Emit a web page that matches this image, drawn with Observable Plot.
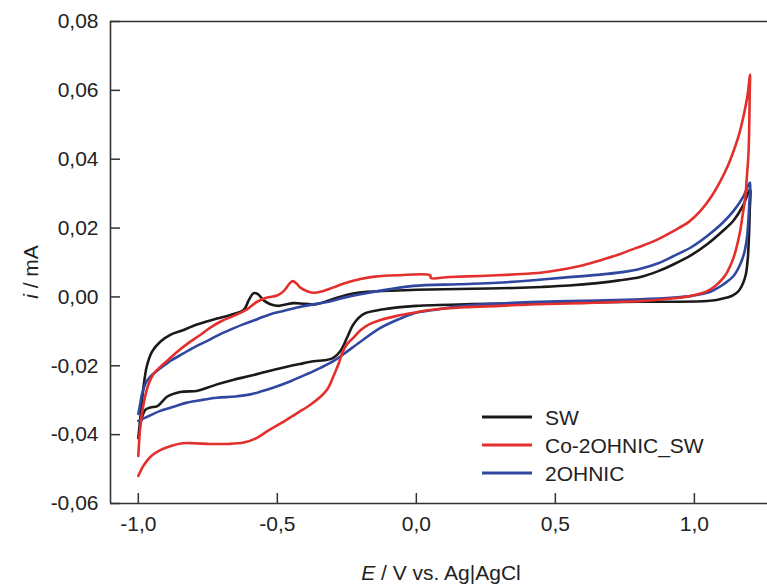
<!DOCTYPE html>
<html>
<head>
<meta charset="utf-8">
<script src="https://cdn.jsdelivr.net/npm/d3@7"></script>
<script src="https://cdn.jsdelivr.net/npm/@observablehq/plot@0.6"></script>
<style>
  html, body { margin: 0; padding: 0; background: #fff; }
  #chart { width: 767px; height: 585px; }
</style>
</head>
<body>
<div id="chart"></div>
<script>
// ---- data ----
const seriesNames = ["SW", "Co-2OHNIC_SW", "2OHNIC"];
const seriesColors = ["#1a1a1a", "#e3302d", "#2f47a0"];

const xTicks = [-1.0, -0.5, 0.0, 0.5, 1.0];
const yTicks = [-0.06, -0.04, -0.02, 0.0, 0.02, 0.04, 0.06, 0.08];

// SW (black): anodic branch then cathodic branch
const swE = [-1.000,-0.990,-0.981,-0.969,-0.950,-0.921,-0.885,-0.837,-0.789,-0.717,-0.660,-0.621,-0.603,-0.585,-0.570,-0.549,-0.525,-0.495,-0.470,-0.441,-0.400,-0.360,-0.297,-0.240,-0.177,-0.100,0.000,0.150,0.300,0.450,0.550,0.650,0.730,0.806,0.870,0.926,0.990,1.046,1.100,1.141,1.175,1.200,
  1.199,1.196,1.192,1.185,1.175,1.160,1.140,1.117,1.080,1.046,0.926,0.806,0.600,0.400,0.200,0.000,-0.118,-0.190,-0.226,-0.249,-0.273,-0.300,-0.330,-0.369,-0.420,-0.477,-0.540,-0.597,-0.660,-0.717,-0.760,-0.790,-0.849,-0.897,-0.915,-0.933,-0.957,-0.975,-0.990,-1.000];
const swI = [-0.0410,-0.0330,-0.0260,-0.0200,-0.0158,-0.0130,-0.0110,-0.0096,-0.0080,-0.0063,-0.0050,-0.0038,-0.0010,0.0011,0.0008,-0.0010,-0.0021,-0.0026,-0.0022,-0.0018,-0.0020,-0.0021,-0.0005,0.0008,0.0015,0.0018,0.0021,0.0023,0.0025,0.0029,0.0033,0.0040,0.0048,0.0058,0.0075,0.0095,0.0122,0.0153,0.0190,0.0222,0.0265,0.0313,
  0.0250,0.0170,0.0110,0.0065,0.0040,0.0018,0.0005,-0.0002,-0.0009,-0.0012,-0.0014,-0.0014,-0.0016,-0.0018,-0.0021,-0.0026,-0.0036,-0.0050,-0.0079,-0.0118,-0.0157,-0.0178,-0.0184,-0.0187,-0.0195,-0.0205,-0.0217,-0.0229,-0.0241,-0.0254,-0.0266,-0.0273,-0.0276,-0.0290,-0.0305,-0.0318,-0.0321,-0.0328,-0.0360,-0.0410];

// Co-2OHNIC_SW (red)
const coE = [-1.000,-0.993,-0.981,-0.963,-0.945,-0.921,-0.897,-0.861,-0.825,-0.780,-0.741,-0.700,-0.657,-0.609,-0.573,-0.537,-0.501,-0.477,-0.455,-0.444,-0.430,-0.417,-0.390,-0.369,-0.340,-0.300,-0.261,-0.201,-0.150,-0.069,0.050,0.052,0.120,0.230,0.320,0.410,0.480,0.540,0.600,0.660,0.720,0.770,0.820,0.870,0.926,0.980,1.022,1.060,1.094,1.120,1.141,1.160,1.178,1.192,1.200,
  1.199,1.195,1.188,1.183,1.172,1.165,1.141,1.120,1.105,1.075,1.046,0.986,0.926,0.806,0.600,0.410,0.300,0.170,0.050,-0.010,-0.070,-0.129,-0.170,-0.201,-0.226,-0.249,-0.265,-0.280,-0.297,-0.320,-0.345,-0.381,-0.430,-0.477,-0.530,-0.575,-0.621,-0.680,-0.741,-0.800,-0.840,-0.880,-0.921,-0.950,-0.969,-0.985,-1.000];
const coI = [-0.0462,-0.0379,-0.0311,-0.0253,-0.0224,-0.0203,-0.0186,-0.0160,-0.0137,-0.0112,-0.0089,-0.0070,-0.0055,-0.0036,-0.0014,-0.0002,0.0004,0.0017,0.0040,0.0046,0.0038,0.0027,0.0016,0.0012,0.0016,0.0027,0.0039,0.0052,0.0059,0.0063,0.0063,0.0055,0.0058,0.0061,0.0064,0.0068,0.0074,0.0082,0.0092,0.0106,0.0121,0.0136,0.0151,0.0168,0.0192,0.0218,0.0250,0.0290,0.0337,0.0380,0.0424,0.0470,0.0530,0.0590,0.0646,
  0.0590,0.0424,0.0340,0.0288,0.0230,0.0192,0.0114,0.0075,0.0056,0.0032,0.0017,0.0003,-0.0004,-0.0012,-0.0018,-0.0022,-0.0026,-0.0030,-0.0038,-0.0046,-0.0055,-0.0067,-0.0080,-0.0097,-0.0118,-0.0137,-0.0160,-0.0195,-0.0228,-0.0268,-0.0290,-0.0313,-0.0338,-0.0362,-0.0387,-0.0410,-0.0423,-0.0427,-0.0427,-0.0425,-0.0425,-0.0432,-0.0445,-0.0460,-0.0476,-0.0495,-0.0520];

// 2OHNIC (blue)
const ohE = [-1.000,-0.993,-0.987,-0.969,-0.950,-0.933,-0.900,-0.885,-0.840,-0.801,-0.750,-0.705,-0.660,-0.621,-0.570,-0.525,-0.475,-0.429,-0.380,-0.321,-0.260,-0.201,-0.100,-0.010,0.150,0.290,0.400,0.530,0.650,0.740,0.806,0.870,0.926,0.990,1.046,1.100,1.141,1.175,1.200,
  1.198,1.194,1.189,1.180,1.165,1.140,1.105,1.070,1.046,0.990,0.926,0.806,0.600,0.410,0.302,0.170,0.062,-0.010,-0.058,-0.129,-0.201,-0.260,-0.297,-0.345,-0.393,-0.450,-0.513,-0.560,-0.597,-0.650,-0.717,-0.770,-0.825,-0.870,-0.921,-0.960,-1.000];
const ohI = [-0.0340,-0.0310,-0.0283,-0.0244,-0.0226,-0.0215,-0.0195,-0.0186,-0.0165,-0.0147,-0.0127,-0.0108,-0.0092,-0.0079,-0.0064,-0.0050,-0.0040,-0.0031,-0.0023,-0.0015,-0.0002,0.0008,0.0022,0.0032,0.0037,0.0041,0.0047,0.0056,0.0064,0.0072,0.0082,0.0098,0.0119,0.0145,0.0177,0.0214,0.0250,0.0290,0.0332,
  0.0280,0.0220,0.0172,0.0130,0.0095,0.0060,0.0037,0.0020,0.0012,0.0003,-0.0002,-0.0007,-0.0011,-0.0015,-0.0019,-0.0026,-0.0038,-0.0048,-0.0063,-0.0090,-0.0130,-0.0165,-0.0186,-0.0206,-0.0224,-0.0244,-0.0263,-0.0275,-0.0283,-0.0289,-0.0293,-0.0299,-0.0307,-0.0318,-0.0331,-0.0345,-0.0360];

// ---- build table ----
function rowsOf(name, E, I) { return E.map((e, k) => ({series: name, E: e, i: I[k]})); }
const rows = [
  ...rowsOf("SW", swE, swI),
  ...rowsOf("2OHNIC", ohE, ohI),
  ...rowsOf("Co-2OHNIC_SW", coE, coI)
];

const fmtY = d => d.toFixed(2).replace(".", ",");
const fmtX = d => d.toFixed(1).replace(".", ",");
const ink = "#222";
const W = 767, H = 585, ML = 110, MR = 0, MT = 21, MB = 82;
const tickLen = 10;

const chart = Plot.plot({
  width: W,
  height: H,
  marginLeft: ML,
  marginRight: MR,
  marginTop: MT,
  marginBottom: MB,
  style: {fontFamily: "'Liberation Sans', Arial, Helvetica, sans-serif", fontSize: "21px", color: ink, background: "#fff", overflow: "visible"},
  x: {domain: [-1.1, 1.263], axis: null},
  y: {domain: [-0.06, 0.08], axis: null},
  color: {domain: seriesNames, range: seriesColors},
  marks: [
    Plot.ruleY([-0.06, 0.08], {stroke: "#333", strokeWidth: 1.6}),
    Plot.ruleX([-1.1], {stroke: "#333", strokeWidth: 1.6}),
    // inward tick marks
    Plot.ruleX(xTicks, {x: d => d, insetTop: (H - MT - MB) - tickLen, stroke: "#333", strokeWidth: 1.5}),
    Plot.ruleY(yTicks, {y: d => d, insetRight: (W - ML - MR) - tickLen, stroke: "#333", strokeWidth: 1.5}),
    // tick labels
    Plot.text(xTicks, {x: d => d, frameAnchor: "bottom", lineAnchor: "top", dy: 13, text: fmtX, fill: ink, fontSize: 21}),
    Plot.text(yTicks, {y: d => d, frameAnchor: "left", textAnchor: "end", dx: -12, text: fmtY, fill: ink, fontSize: 21}),
    Plot.line(rows, {x: "E", y: "i", z: "series", stroke: "series", strokeWidth: 2.6, curve: "catmull-rom"})
  ]
});

document.getElementById("chart").appendChild(chart);

// ---- axis titles and legend ----
const svg = d3.select(chart);
const font = "'Liberation Sans', Arial, Helvetica, sans-serif";

const xt = svg.append("text")
  .attr("x", 441).attr("y", 580)
  .attr("text-anchor", "middle")
  .attr("font-family", font).attr("font-size", 21).attr("fill", ink);
xt.append("tspan").attr("font-style", "italic").text("E");
xt.append("tspan").text(" / V vs. Ag|AgCl");

const yt = svg.append("text")
  .attr("transform", "translate(38,272) rotate(-90)")
  .attr("text-anchor", "middle")
  .attr("font-family", font).attr("font-size", 21).attr("fill", ink);
yt.append("tspan").attr("font-style", "italic").text("i");
yt.append("tspan").text(" / mA");

const legend = svg.append("g");
seriesNames.forEach((name, k) => {
  const y = 417 + k * 28;
  legend.append("line")
    .attr("x1", 482).attr("x2", 532).attr("y1", y).attr("y2", y)
    .attr("stroke", seriesColors[k]).attr("stroke-width", 3);
  legend.append("text")
    .attr("x", 545).attr("y", y).attr("dy", "0.36em")
    .attr("text-anchor", "start")
    .attr("font-family", font).attr("font-size", 21).attr("fill", ink)
    .text(name);
});
</script>
</body>
</html>
